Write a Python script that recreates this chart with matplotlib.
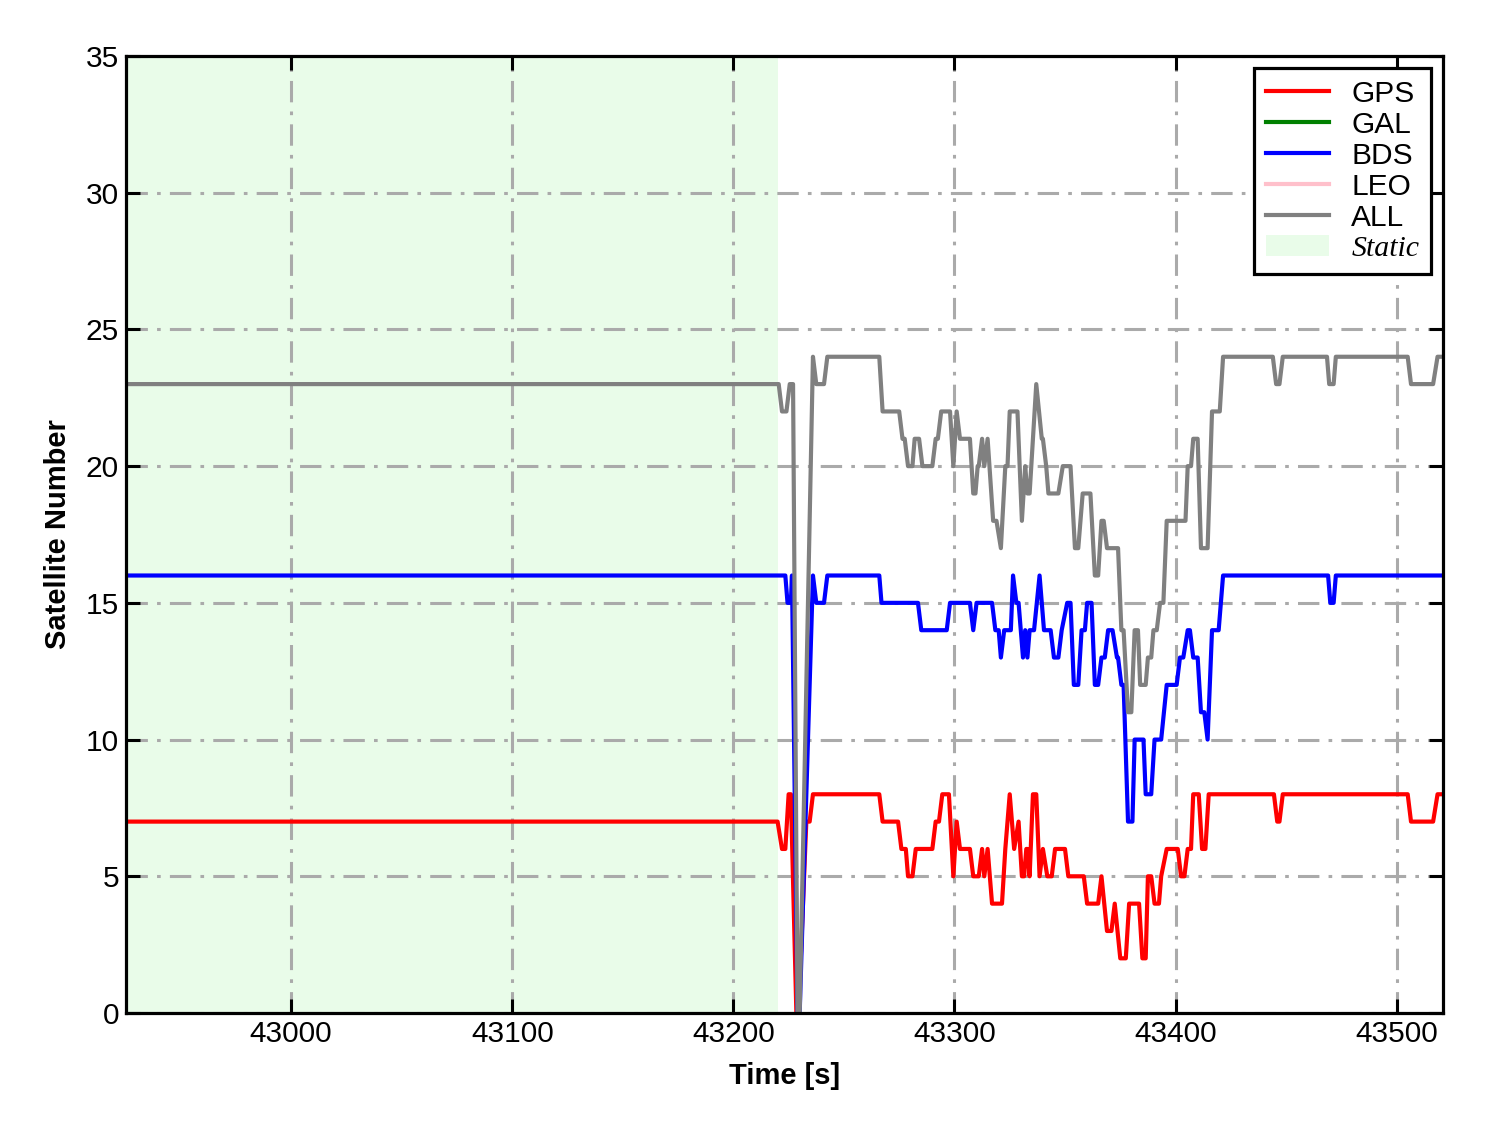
import matplotlib
matplotlib.use("Agg")
import matplotlib.pyplot as plt
from matplotlib.patches import Patch
from matplotlib.lines import Line2D

plt.rcParams["font.family"] = ["Liberation Sans", "DejaVu Sans"]

# ---- data (time [s], satellite count) ----
static_span = (42925.3, 43220.0)

gps_t = [42925, 43220, 43222, 43223.5, 43225, 43226, 43228.5, 43229.5, 43233, 43234.5,
         43236, 43266, 43267.5, 43274.5, 43276, 43278, 43279, 43281, 43282.5, 43290,
         43291.5, 43293, 43294.5, 43297.5, 43299.5, 43301, 43302.5, 43307, 43308.5, 43311,
         43312.5, 43313.5, 43315, 43317, 43321.5, 43323, 43325, 43327, 43329, 43330.5,
         43331.5, 43332.5, 43333, 43334, 43335.5, 43337, 43338.5, 43340, 43342, 43344,
         43345.5, 43350, 43351.5, 43358.5, 43360, 43365, 43366.5, 43369, 43371, 43372.5,
         43375, 43377.5, 43379, 43383.5, 43385, 43386.5, 43387.5, 43389, 43390.5, 43392.5,
         43393.5, 43396, 43401, 43402.5, 43404, 43405.5, 43407, 43408, 43410.5, 43412,
         43413.5, 43415, 43444.5, 43446, 43447, 43448.5, 43505, 43506.5, 43516.5, 43518.5,
         43521]
gps_n = [7, 7, 6, 6, 8, 8, 0, 0, 7, 7,
         8, 8, 7, 7, 6, 6, 5, 5, 6, 6,
         7, 7, 8, 8, 5, 7, 6, 6, 5, 5,
         6, 5, 6, 4, 4, 6, 8, 6, 7, 5,
         5, 6, 6, 5, 8, 8, 5, 6, 5, 5,
         6, 6, 5, 5, 4, 4, 5, 3, 3, 4,
         2, 2, 4, 4, 2, 2, 5, 5, 4, 4,
         5, 6, 6, 5, 5, 6, 6, 8, 8, 6,
         6, 8, 8, 7, 7, 8, 8, 7, 7, 8,
         8]

gal_t, gal_n = [], []
leo_t, leo_n = [], []

bds_t = [42925, 43223.5, 43224.5, 43226, 43226.5, 43229, 43230, 43236, 43237.5, 43241,
         43242.5, 43266, 43267, 43283.5, 43285, 43296.5, 43298, 43307, 43308.5, 43310,
         43317, 43318.5, 43320, 43321, 43322.5, 43325.5, 43326.5, 43328, 43329, 43331,
         43332, 43333, 43334, 43336, 43338.5, 43339.5, 43340.5, 43343.5, 43345, 43347,
         43348.5, 43351, 43352.5, 43354, 43356, 43357.5, 43359, 43360, 43362, 43363.5,
         43365, 43366.5, 43368, 43369.5, 43371.5, 43373.5, 43374, 43375.5, 43376.5, 43378.5,
         43380.5, 43381.5, 43385.5, 43386.5, 43389, 43390.5, 43393.5, 43396, 43400.5, 43402,
         43403.5, 43405.5, 43406.5, 43408, 43410, 43411.5, 43413, 43414.5, 43416.5, 43419.5,
         43421.5, 43469, 43470, 43471.5, 43472.5, 43521]
bds_n = [16, 16, 15, 15, 16, 0, 0, 16, 15, 15,
         16, 16, 15, 15, 14, 14, 15, 15, 14, 15,
         15, 14, 14, 13, 14, 14, 16, 15, 15, 13,
         14, 13, 14, 14, 16, 15, 14, 14, 13, 13,
         14, 15, 15, 12, 12, 14, 14, 15, 15, 12,
         12, 13, 13, 14, 14, 13, 13, 12, 12, 7,
         7, 10, 10, 8, 8, 10, 10, 12, 12, 13,
         13, 14, 14, 13, 13, 11, 11, 10, 14, 14,
         16, 16, 15, 15, 16, 16]

all_t = [42925, 43220.5, 43222, 43224, 43225.5, 43227, 43229, 43230, 43236, 43237.5,
         43241, 43242.5, 43266, 43267.5, 43275, 43276.5, 43277.5, 43279, 43281, 43282,
         43284, 43285.5, 43290, 43291.5, 43292.5, 43294, 43298, 43299.5, 43301, 43302.5,
         43307, 43308.5, 43309.5, 43310.5, 43311, 43312.5, 43313.5, 43315, 43317.5, 43319,
         43321, 43323, 43324, 43325, 43328.5, 43330.5, 43332, 43333, 43334, 43337,
         43339.5, 43340, 43341.5, 43342.5, 43347, 43349, 43352.5, 43354.5, 43356, 43358,
         43361.5, 43363.5, 43365, 43366.5, 43367.5, 43369, 43374, 43375.5, 43376.5, 43378.5,
         43380, 43381.5, 43383, 43384, 43386.5, 43387.5, 43389, 43390, 43391.5, 43393,
         43394.5, 43396, 43404.5, 43405.5, 43407, 43408, 43410, 43411.5, 43414.5, 43416.5,
         43420, 43421.5, 43444, 43445.5, 43447, 43448.5, 43468.5, 43469.5, 43471.5, 43472.5,
         43505, 43506.5, 43516.5, 43518.5, 43521]
all_n = [23, 23, 22, 22, 23, 23, 0, 0, 24, 23,
         23, 24, 24, 22, 22, 21, 21, 20, 20, 21,
         21, 20, 20, 21, 21, 22, 22, 20, 22, 21,
         21, 19, 19, 20, 20, 21, 20, 21, 18, 18,
         17, 20, 20, 22, 22, 18, 20, 19, 19, 23,
         21, 21, 20, 19, 19, 20, 20, 17, 17, 19,
         19, 16, 16, 18, 18, 17, 17, 14, 14, 11,
         11, 14, 14, 12, 12, 13, 13, 14, 14, 15,
         15, 18, 18, 20, 20, 21, 21, 17, 17, 22,
         22, 24, 24, 23, 23, 24, 24, 23, 23, 24,
         24, 23, 23, 24, 24]

xticks = [43000, 43100, 43200, 43300, 43400, 43500]
yticks = [0, 5, 10, 15, 20, 25, 30, 35]

fig = plt.figure(figsize=(14.88, 11.33), dpi=100)
ax = fig.add_axes([0.0847, 0.1059, 0.8851, 0.8447])

ax.axvspan(*static_span, color="#e9fce9", lw=0, zorder=0)
lw = 3.0
ax.plot(gps_t, gps_n, color="red", lw=lw, label="GPS")
ax.plot(gal_t, gal_n, color="green", lw=lw, label="GAL")
ax.plot(bds_t, bds_n, color="blue", lw=lw, label="BDS")
ax.plot(leo_t, leo_n, color="pink", lw=lw, label="LEO")
ax.plot(all_t, all_n, color="gray", lw=lw, label="ALL")

ax.set_xlim(42925.3, 43521)
ax.set_ylim(0, 35)
ax.set_xticks(xticks)
ax.set_yticks(yticks)
ax.grid(True, color="#aaaaaa", lw=2.2, linestyle=(0, (7, 3, 1.2, 3)))
ax.set_axisbelow(True)
ax.tick_params(direction="in", length=10, width=2.2, labelsize=21.5, pad=5,
               top=True, right=True)
for s in ax.spines.values():
    s.set_linewidth(2.3)

ax.set_xlabel("Time [s]", fontsize=21, fontweight="bold", labelpad=10)
ax.set_ylabel("Satellite Number", fontsize=21, fontweight="bold", labelpad=10)

handles = [Line2D([], [], color=c, lw=3) for c in ("red", "green", "blue", "pink", "gray")]
handles.append(Patch(facecolor="#e9fce9", edgecolor="none"))
labels = ["GPS", "GAL", "BDS", "LEO", "ALL", "Static"]
leg = ax.legend(handles, labels, loc="upper right", fontsize=21.5, frameon=True,
                fancybox=False, edgecolor="black", framealpha=1,
                handlelength=2.1, handletextpad=0.75, labelspacing=0.1,
                borderpad=0.4, borderaxespad=0.4)
leg.get_frame().set_linewidth(2.3)
leg.get_texts()[-1].set_fontfamily(["Liberation Serif", "DejaVu Serif"])
leg.get_texts()[-1].set_fontstyle("italic")

fig.savefig("out.png", dpi=100)
